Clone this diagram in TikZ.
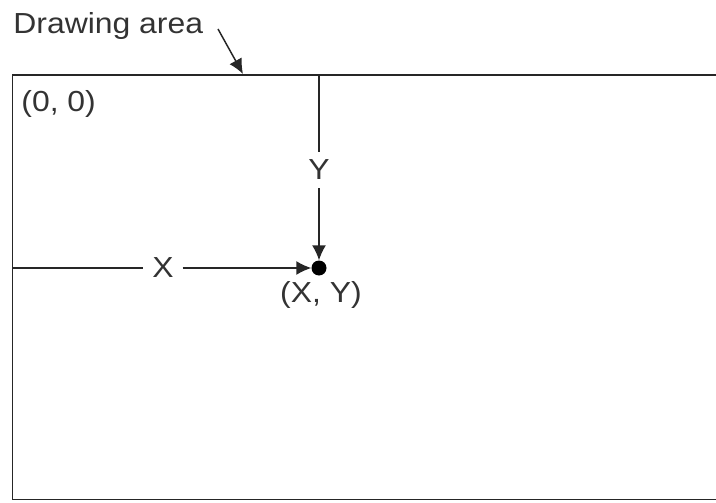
\documentclass[tikz,border=0pt]{standalone}
\usepackage{fontspec}
\setmainfont{Liberation Sans}
\usetikzlibrary{arrows.meta}
\begin{document}
\begin{tikzpicture}[x=1pt,y=-1pt,
  edge/.style={line width=1.5pt,draw=black!85},
  arr/.style={edge,-{Latex[length=15pt,width=14pt]}},
  lbl/.style={font=\fontsize{29}{32}\selectfont,text=black!80,inner sep=2pt,xscale=1.1},
  gap/.style={lbl,inner sep=8pt}]
\useasboundingbox (0,0) rectangle (716,503);
% frame (right edge off the picture)
\coordinate (tr) at (720,75);
\coordinate (tl) at (12.5,75);
\coordinate (bl) at (12.5,499.5);
\coordinate (br) at (720,499.5);
\draw[edge] (tr) -- (tl) -- (bl) -- (br);
% top label
\node[lbl,anchor=west] (da) at (11,26) {Drawing area};
\coordinate (datip) at (243,74);
\coordinate (datail) at (218,29);
\draw[arr] (datail) -- (datip);
\node[lbl,anchor=west] (origin) at (19,104) {(0, 0)};
% point
\node[circle,fill=black,inner sep=0pt,minimum size=15pt] (pt) at (319,268) {};
\node[gap] (ylab) at (319,170) {Y};
\node[gap] (xlab) at (163,268) {X};
\coordinate (ytop) at (319,75);
\coordinate (xleft) at (12.5,268);
\draw[edge] (ytop) -- (ylab.north);
\draw[arr] (ylab.south) -- (pt.north);
\draw[edge] (xleft) -- (xlab.west);
\draw[arr] (xlab.east) -- (pt.west);
\node[lbl] (ptlab) at (321,295) {(X, Y)};
\end{tikzpicture}
\end{document}
